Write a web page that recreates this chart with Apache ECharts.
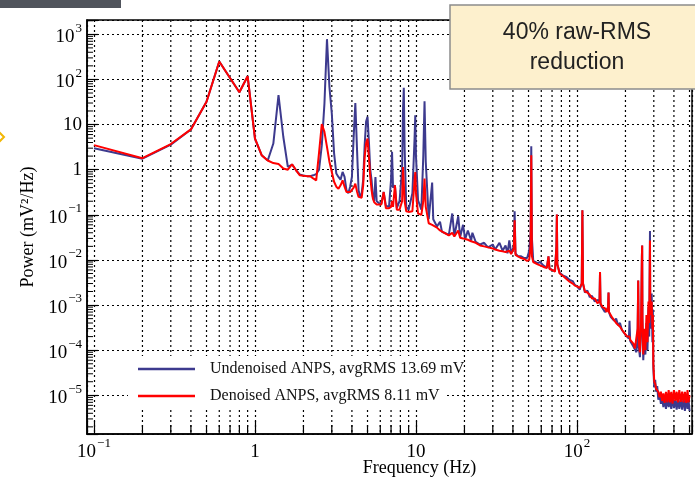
<!DOCTYPE html>
<html><head><meta charset="utf-8">
<script src="https://cdn.jsdelivr.net/npm/echarts@6/dist/echarts.min.js"></script>
<style>html,body{margin:0;padding:0;background:#fff;overflow:hidden}#c{width:695px;height:482px}</style>
</head><body><div id="c"></div>
<script>
// ---- data (frequency in Hz, power in mV^2/Hz) ----
const freqA = [0.1,0.2,0.3,0.4,0.5,0.6,0.7,0.8,0.9,1.0,1.1,1.2,1.3,1.4,1.5,1.6,1.7,1.8,1.9,2.0,2.1,2.2,2.3,2.4,2.5,2.6,2.7,2.8,2.9,3.0,3.1,3.2,3.3];
const undenoisedA = [3.0,1.75,3.6,7.8,32,250,108,52,118,4.9,2.1,1.6,3.8,45,5.3,1.15,1.3,0.97,0.78,0.74,0.72,0.72,0.75,0.8,1.0,3.5,29,780,68,17.6,2.3,0.82,0.69];
const denoisedA = [3.5,1.8,3.7,7.8,32,250,108,52,118,4.9,2.1,1.6,1.4,1.33,1.06,1.0,1.32,0.97,0.75,0.73,0.72,0.72,0.64,0.58,2.4,10.2,6.9,3.2,1.5,0.89,0.54,0.42,0.38];

const freqB = [3.4,3.5,3.6,3.7,3.8,3.9,4.0,4.1,4.2,4.3,4.4,4.5,4.6,4.7,4.8,4.9,5.0,5.1,5.2,5.3,5.4,5.5,5.6,5.7,5.9,6.1,6.3,6.5,6.8,7.0,7.1,7.2,7.4,7.6,7.9,8.2,8.3,8.4,8.5,8.7,9.0,9.5,9.8,9.9,10.0,10.3,10.8,11.1,11.3,11.5,12.0,12.6,12.8,13.5,14.1,14.5];
const undenoisedB = [0.6,0.89,0.69,0.35,0.3,0.42,0.69,5.2,30,3.0,0.35,0.25,0.3,0.6,3.5,11.7,14.8,4.2,1.0,0.58,0.25,0.2,0.69,0.2,0.18,0.18,0.32,0.16,0.15,0.6,2.48,0.4,0.45,0.14,0.2,1.0,20,65,3.0,0.15,0.13,0.3,5.0,16,2.0,0.21,0.13,2.0,33,1.5,0.08,0.52,0.08,0.055,0.07,0.042];
const denoisedB = [0.45,0.58,0.42,0.32,0.3,0.32,0.35,0.4,0.49,0.33,0.25,0.23,0.24,0.45,1.9,3.8,4.9,1.9,0.69,0.35,0.23,0.19,0.18,0.17,0.17,0.17,0.32,0.14,0.14,0.15,0.2,0.15,0.45,0.13,0.13,0.2,1.15,0.5,0.2,0.12,0.116,0.12,0.6,0.89,0.3,0.107,0.1,0.2,0.64,0.15,0.065,0.06,0.058,0.052,0.045,0.042];

const freqC = [15,16,16.8,17.3,18.3,18.8,19.6,20.2,21,22,22.4,23.5,25,26.5,28,30,31,33,34.5,36,37,38,39,40.5,41,41.5,43,45,47,49,50.5,51.5,52,52.5,53.5,55,57,59,62,65,66.5,67.5,70,73,74.5,75,75.5,78,82,86,90,94,97];
const undenoisedC = [0.04,0.036,0.107,0.034,0.093,0.032,0.06,0.029,0.045,0.027,0.04,0.025,0.022,0.024,0.019,0.022,0.017,0.024,0.016,0.021,0.014,0.027,0.014,0.02,0.12,0.014,0.012,0.012,0.011,0.011,0.016,0.04,3.3,0.03,0.0095,0.0095,0.0085,0.009,0.0075,0.0068,0.012,0.0065,0.006,0.0058,0.02,0.101,0.008,0.0052,0.0045,0.0042,0.0036,0.0034,0.0028];
const denoisedC = [0.04,0.035,0.04,0.033,0.045,0.031,0.03,0.029,0.028,0.026,0.026,0.024,0.021,0.02,0.019,0.018,0.017,0.016,0.0155,0.015,0.014,0.016,0.0135,0.018,0.076,0.013,0.012,0.011,0.0105,0.0095,0.01,0.02,2.1,0.012,0.009,0.0085,0.008,0.0076,0.007,0.0066,0.012,0.0063,0.006,0.0055,0.02,0.101,0.008,0.005,0.0044,0.0038,0.0033,0.003,0.0027];

const freqD = [100,104,107,108,109,112,116,120,124,129,134,138,139,140,144,149,153,156,157,158,162,166,170,175,180,185,190,195,200,205,210,212,214,219,224,229,234,238,240,242,246,250,253,254,255,258,262,266,270,274,278,281,283,284,285,288,291,294,296,298,302,306,310,315,320,326,332,338,344,350,357,364,371,378,385,392,400,408,416,424,432,441,450,459,468,477,486,493,500];
const undenoisedD = [2.6e-3,2.2e-3,3e-3,0.126,3e-3,1.9e-3,2.1e-3,1.5e-3,1.6e-3,1.2e-3,1.3e-3,1.2e-3,5.4e-3,1e-3,9.5e-4,7e-4,8e-4,9e-4,1.9e-3,7e-4,5.5e-4,6e-4,4.5e-4,5e-4,3.6e-4,4e-4,2.8e-4,3e-4,2.2e-4,2.3e-4,1.8e-4,4.5e-4,1.6e-4,1.5e-4,1.2e-4,1.2e-4,9e-5,2e-4,3.5e-3,1.2e-4,7e-5,3e-4,0.012,0.021,5e-4,6e-5,2e-4,8e-5,4e-4,1e-4,9e-4,2e-4,8e-3,0.044,2e-3,3e-4,1.8e-3,1.5e-4,8e-4,4e-5,1.5e-5,2.2e-5,1.2e-5,1.6e-5,8e-6,1.1e-5,6.5e-6,9e-6,5.5e-6,8.5e-6,5e-6,9e-6,5.5e-6,8e-6,5e-6,9e-6,5.2e-6,8e-6,4.8e-6,8.5e-6,5e-6,8e-6,4.8e-6,9e-6,4.5e-6,8.5e-6,5e-6,8e-6,4.5e-6];
const denoisedD = [2.6e-3,2.4e-3,3e-3,0.126,3e-3,2e-3,1.9e-3,1.7e-3,1.4e-3,1.4e-3,1.1e-3,1.2e-3,5.4e-3,1.1e-3,9e-4,8.5e-4,7e-4,9e-4,1.9e-3,7e-4,6.5e-4,5.2e-4,5.5e-4,4e-4,4.2e-4,3.3e-4,3.4e-4,2.5e-4,2.7e-4,2e-4,2.1e-4,2e-4,1.7e-4,1.7e-4,1.4e-4,1.1e-4,1.1e-4,3e-4,3.5e-3,1.5e-4,9e-5,4e-4,0.012,0.021,5e-4,8e-5,3e-4,1e-4,6e-4,1.5e-4,1.2e-3,4e-4,6e-3,0.027,1.5e-3,6e-4,1.2e-3,3e-4,6e-4,5e-5,2e-5,1.8e-5,1.4e-5,1.3e-5,1.2e-5,9e-6,1.2e-5,7.5e-6,1.1e-5,6.8e-6,1.2e-5,7e-6,1.3e-5,7e-6,1.2e-5,6.5e-6,1.3e-5,7.5e-6,1.2e-5,7e-6,1.3e-5,7.2e-6,1.2e-5,7e-6,1.2e-5,6.8e-6,1.3e-5,7e-6,1e-5];

// axis ranges and tick positions
const xRange = [0.0905, 518];
const yRange = [1.39e-6, 2075];
const minorMultipliers = [2,3,4,5,6,7,8,9];
const xDecades = [0.1, 1, 10, 100];
const yDecades = [1e-6,1e-5,1e-4,1e-3,1e-2,1e-1,1,10,100,1000];

const seriesNames = ['Undenoised ANPS, avgRMS 13.69 mV', 'Denoised ANPS, avgRMS 8.11 mV'];
const seriesColors = ['#3d3a8e', '#ff0000'];

// ---- build ----
const freq = freqA.concat(freqB, freqC, freqD);
const undenoised = undenoisedA.concat(undenoisedB, undenoisedC, undenoisedD);
const denoised = denoisedA.concat(denoisedB, denoisedC, denoisedD);
const inRange = (v, r) => v > r[0] && v < r[1];
const xMinor = [], yMinor = [];
xDecades.forEach(d => minorMultipliers.forEach(m => { if (inRange(d*m, xRange)) xMinor.push(d*m); }));
yDecades.forEach(d => minorMultipliers.forEach(m => { if (inRange(d*m, yRange)) yMinor.push(d*m); }));

const SERIF = 'Liberation Serif';
function powLabel(v) {
  const l = Math.log10(v), e = Math.round(l);
  if (Math.abs(l - e) > 0.01) return '';
  if (e === 0) return '{p|1}';
  if (e === 1) return '{p|10}';
  return '{b|10}{s|' + (e < 0 ? '\u2212' : '') + Math.abs(e) + '}';
}
const richY = {
  p: {fontFamily: SERIF, fontSize: 19, color: '#000'},
  b: {fontFamily: SERIF, fontSize: 19, color: '#000', verticalAlign: 'bottom', padding: [6,0,0,0]},
  s: {fontFamily: SERIF, fontSize: 13, color: '#000', verticalAlign: 'top', padding: [0,0,0,1]}
};
const richX = {
  p: {fontFamily: SERIF, fontSize: 19, color: '#000', verticalAlign: 'bottom', padding: [6,0,0,0]},
  b: {fontFamily: SERIF, fontSize: 19, color: '#000', verticalAlign: 'bottom', padding: [6,0,0,0]},
  s: {fontFamily: SERIF, fontSize: 13, color: '#000', verticalAlign: 'top', padding: [0,0,0,1]}
};

const chart = echarts.init(document.getElementById('c'), null, {renderer: 'canvas', width: 695, height: 482});
const option = {
  animation: false,
  backgroundColor: '#fff',
  grid: {left: 87, top: 20, width: 605, height: 414, containLabel: false, outerBoundsMode: 'none'},
  xAxis: {
    type: 'log', logBase: 10, min: xRange[0], max: xRange[1], splitNumber: 5,
    name: 'Frequency (Hz)', nameLocation: 'middle', nameGap: 25, nameMoveOverlap: false,
    nameTextStyle: {fontFamily: SERIF, fontSize: 18, color: '#000', padding: [0,0,0,60]},
    axisLine: {show: true, lineStyle: {color: '#000', width: 1.5}},
    axisTick: {show: true, inside: true, length: 13, lineStyle: {color: '#000', width: 1.2}},
    axisLabel: {formatter: powLabel, rich: richX, margin: 3, color: '#000'},
    splitLine: {show: true, lineStyle: {color: '#000', width: 1.2, type: [2,3]}}
  },
  yAxis: {
    type: 'log', logBase: 10, min: yRange[0], max: yRange[1], splitNumber: 10,
    name: 'Power (mV\u00b2/Hz)', nameLocation: 'middle', nameGap: 50, nameMoveOverlap: false,
    nameTextStyle: {fontFamily: SERIF, fontSize: 18, color: '#000'},
    axisLine: {show: true, lineStyle: {color: '#000', width: 1.5}},
    axisTick: {show: true, inside: true, length: 11, lineStyle: {color: '#000', width: 1.2}},
    axisLabel: {formatter: powLabel, rich: richY, margin: 5, color: '#000'},
    splitLine: {show: true, lineStyle: {color: '#000', width: 1.2, type: [2,3]}}
  },
  legend: {
    orient: 'vertical', left: 128, top: 357, itemGap: 11,
    itemWidth: 57, itemHeight: 2.5, icon: 'rect', z: 10,
    padding: [4, 8, 4, 10],
    data: seriesNames,
    textStyle: {fontFamily: SERIF, fontSize: 16, color: '#111', padding: [0,0,0,10]},
    selectedMode: false
  },
  series: [
    {
      type: 'custom', name: 'xminor', silent: true, z: 1, clip: false,
      data: xMinor.map(v => [v, 1]),
      renderItem: (params, api) => {
        const cs = params.coordSys;
        const px = api.coord([api.value(0), 1])[0];
        return {type: 'group', children: [
          {type: 'line', shape: {x1: px, y1: cs.y, x2: px, y2: cs.y + cs.height}, style: {stroke: '#000', lineWidth: 1.2, lineDash: [2,3]}},
          {type: 'line', shape: {x1: px, y1: cs.y + cs.height, x2: px, y2: cs.y + cs.height - 9}, style: {stroke: '#000', lineWidth: 1.2}}
        ]};
      }
    },
    {
      type: 'custom', name: 'yminor', silent: true, z: 1, clip: false,
      data: yMinor.map(v => [1, v]),
      renderItem: (params, api) => {
        const cs = params.coordSys;
        const py = api.coord([1, api.value(1)])[1];
        return {type: 'line', shape: {x1: cs.x, y1: py, x2: cs.x + 6, y2: py}, style: {stroke: '#000', lineWidth: 1}};
      }
    },
    {
      name: seriesNames[0], type: 'line', z: 3, symbol: 'none', smooth: false,
      color: seriesColors[0], lineStyle: {width: 2, color: seriesColors[0]},
      data: freq.map((f, i) => [f, undenoised[i]])
    },
    {
      name: seriesNames[1], type: 'line', z: 3, symbol: 'none', smooth: false,
      color: seriesColors[1], lineStyle: {width: 2, color: seriesColors[1]},
      data: freq.map((f, i) => [f, denoised[i]])
    },
    {
      type: 'custom', name: 'frame', silent: true, z: 6, clip: false,
      data: [[1, 1]],
      renderItem: (params) => {
        const cs = params.coordSys;
        return {type: 'rect', shape: {x: cs.x, y: cs.y, width: cs.width, height: cs.height}, style: {fill: null, stroke: '#000', lineWidth: 1.5}};
      }
    }
  ],
  graphic: [
    {type: 'rect', z: 4, shape: {x: 128, y: 356, width: 317, height: 52}, style: {fill: '#fff'}},
    {type: 'rect', left: 0, top: 0, z: 100, shape: {width: 121, height: 8}, style: {fill: '#50545c'}},
    {type: 'polyline', z: 100, shape: {points: [[-2,131],[4,137],[-2,143]]}, style: {stroke: '#f2b705', lineWidth: 2, fill: null}},
    {type: 'rect', z: 100, shape: {x: 450, y: 5, width: 260, height: 84}, style: {fill: '#fdf0cd', stroke: '#8c8c8c', lineWidth: 1.5}},
    {type: 'text', z: 101, style: {x: 577, y: 33, text: '40% raw-RMS', fontFamily: 'Liberation Sans', fontSize: 23, fill: '#222', align: 'center', verticalAlign: 'middle'}},
    {type: 'text', z: 101, style: {x: 577, y: 63, text: 'reduction', fontFamily: 'Liberation Sans', fontSize: 23, fill: '#222', align: 'center', verticalAlign: 'middle'}}
  ]
};
chart.setOption(option);
</script></body></html>
